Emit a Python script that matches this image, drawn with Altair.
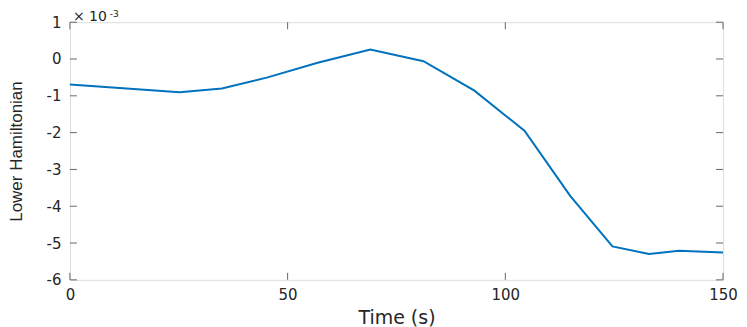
import altair as alt
import pandas as pd

time_s = [0, 25.2, 34.9, 45.4, 56.9, 69.0, 81.2, 92.9, 104.4, 114.9, 124.6, 133.0, 139.9, 150]
lower_h = [-0.69, -0.90, -0.80, -0.50, -0.10, 0.26, -0.06, -0.86, -1.95, -3.72, -5.09, -5.30, -5.21, -5.26]
x_ticks = [0, 50, 100, 150]
y_ticks = [-6, -5, -4, -3, -2, -1, 0, 1]

TOP = 14
W, H = 654, 261 - (TOP - 11)
AX = "#262626"
TK = "#666666"

df = pd.DataFrame({"t": time_s, "h": lower_h})
dfx = pd.DataFrame({"v": x_ticks})
dfy = pd.DataFrame({"v": y_ticks})

xs = alt.Scale(domain=[0, 150], nice=False, zero=False)
ys = alt.Scale(domain=[-6, 1], nice=False, zero=False)

minus_fix = "replace(datum.label, '\u2212', '-')"

x_axis = alt.Axis(
    values=x_ticks, title="Time (s)", ticks=False, domain=False, grid=False,
    labelFont="DejaVu Sans", labelFontSize=15, labelColor=AX, labelPadding=8,
    labelExpr=minus_fix, labelFlush=False, labelOverlap=False,
    titleFont="DejaVu Sans", titleFontSize=19, titleFontWeight="normal",
    titleColor=AX, titleX=W / 2, titleY=38, titleAlign="center",
    titleBaseline="middle")
y_axis = alt.Axis(
    values=y_ticks, title="Lower Hamiltonian", ticks=False, domain=False, grid=False,
    labelFont="DejaVu Sans", labelFontSize=15, labelColor=AX, labelPadding=9,
    labelExpr=minus_fix, labelFlush=False, labelOverlap=False,
    titleFont="Liberation Sans", titleFontSize=17, titleFontWeight="normal",
    titleColor=AX, titleAngle=270, titleX=-53, titleY=H / 2,
    titleAlign="center", titleBaseline="middle")

line = alt.Chart(df).mark_line(color="#0072BD", strokeWidth=2).encode(
    x=alt.X("t:Q", scale=xs, axis=x_axis, title="Time (s)"),
    y=alt.Y("h:Q", scale=ys, axis=y_axis, title="Lower Hamiltonian"),
)

xt_bot = alt.Chart(dfx).mark_rule(color=TK, strokeWidth=1).encode(
    x=alt.X("v:Q", scale=xs, axis=x_axis, title="Time (s)"),
    y=alt.value(H), y2=alt.value(H - 7))
xt_top = alt.Chart(dfx).mark_rule(color=TK, strokeWidth=1).encode(
    x=alt.X("v:Q", scale=xs, axis=x_axis, title="Time (s)"),
    y=alt.value(0), y2=alt.value(7))
yt_left = alt.Chart(dfy).mark_rule(color=TK, strokeWidth=1).encode(
    y=alt.Y("v:Q", scale=ys, axis=y_axis, title="Lower Hamiltonian"),
    x=alt.value(0), x2=alt.value(7))
yt_right = alt.Chart(dfy).mark_rule(color=TK, strokeWidth=1).encode(
    y=alt.Y("v:Q", scale=ys, axis=y_axis, title="Lower Hamiltonian"),
    x=alt.value(W), x2=alt.value(W - 7))

ann = pd.DataFrame({"a": [0]})
mult = alt.Chart(ann).mark_text(
    text="\u00d7 10", font="DejaVu Sans", fontSize=14, color=AX,
    align="left", baseline="alphabetic").encode(x=alt.value(3), y=alt.value(-1))
expo = alt.Chart(ann).mark_text(
    text="-3", font="DejaVu Sans", fontSize=9, color=AX,
    align="left", baseline="alphabetic").encode(x=alt.value(40), y=alt.value(-5))

chart = alt.layer(line, xt_bot, xt_top, yt_left, yt_right, mult, expo).properties(
    width=W, height=H,
    autosize=alt.AutoSizeParams(type="none"),
    padding={"left": 62, "top": TOP, "right": 16, "bottom": 48},
).configure_view(stroke=AX, strokeWidth=1).configure(background="white")

chart.save("out.html", embed_options={"renderer": "svg", "actions": False})
